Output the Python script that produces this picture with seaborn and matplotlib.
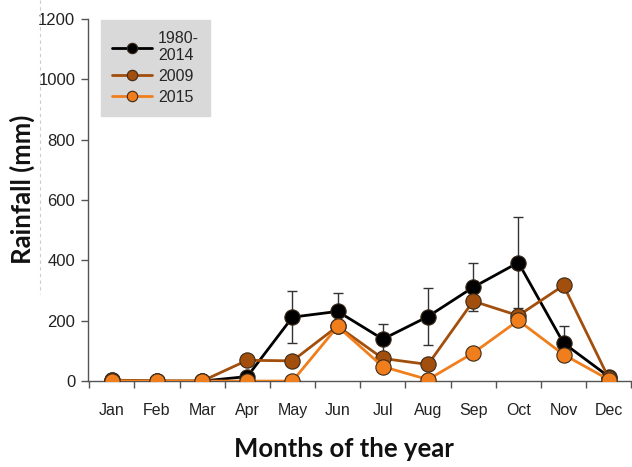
import matplotlib
matplotlib.use("Agg")
import matplotlib.pyplot as plt
from matplotlib.lines import Line2D
import seaborn as sns
import pandas as pd
import numpy as np

months = ["Jan", "Feb", "Mar", "Apr", "May", "Jun", "Jul", "Aug", "Sep", "Oct", "Nov", "Dec"]
mean_1980_2014 = [3, 0, 0, 15, 212, 231, 139, 214, 311, 393, 126, 15]
err_1980_2014 = [0, 0, 0, 0, 87, 61, 49, 93, 79, 152, 55, 0]
rain_2009 = [3, 0, 0, 69, 67, 182, 75, 55, 265, 217, 317, 10]
rain_2015 = [0, 0, 0, 0, 0, 181, 48, 5, 93, 201, 88, 5]
series_labels = ["1980-\n2014", "2009", "2015"]
colors = ["#000000", "#A24E0C", "#F07E1C"]

df = pd.DataFrame({
    "month": list(range(12)) * 3,
    "rain": mean_1980_2014 + rain_2009 + rain_2015,
    "series": [series_labels[0]] * 12 + [series_labels[1]] * 12 + [series_labels[2]] * 12,
})

sns.set_style("white")
plt.rcParams["font.family"] = ["Liberation Sans", "DejaVu Sans"]

fig = plt.figure(figsize=(6.32, 4.67), dpi=100)
ax = fig.add_axes([0.139, 0.184, 0.862, 0.775])

x = np.arange(12)
ax.errorbar(x, mean_1980_2014, yerr=err_1980_2014, fmt="none", ecolor="#333333",
            elinewidth=1, capsize=3.5, capthick=1, zorder=1)

sns.lineplot(data=df, x="month", y="rain", hue="series", palette=colors,
             marker="o", markersize=11, markeredgecolor="#3a2a1a", markeredgewidth=0.8,
             linewidth=2, ax=ax, legend=True, zorder=3)

ax.set_xlim(-0.53, 11.53)
ax.set_ylim(0, 1200)
ax.set_yticks(range(0, 1201, 200))
ax.set_xticks(x)
ax.set_xticklabels(months)
ax.set_xticks(np.arange(-0.5, 12, 1), minor=True)
ax.tick_params(axis="x", which="major", length=0, pad=16, labelsize=11.5, colors="#222222")
ax.tick_params(axis="x", which="minor", length=5, direction="out", width=1, color="#555555", bottom=True)
ax.tick_params(axis="y", length=5, direction="out", width=1, color="#555555", left=True,
               labelsize=12, labelcolor="#222222", pad=4)

for s in ["top", "right"]:
    ax.spines[s].set_visible(False)
for s in ["left", "bottom"]:
    ax.spines[s].set_color("#555555")
    ax.spines[s].set_linewidth(1)

ax.set_xlabel("Months of the year", fontsize=18.5, fontweight="bold", family="Lato", color="#111111")
ax.xaxis.set_label_coords(0.47, -0.155)
ax.set_ylabel("Rainfall (mm)", fontsize=18.5, fontweight="bold", family="Lato", color="#111111")
ax.yaxis.set_label_coords(-0.097, 0.53)

leg = ax.legend(loc="upper left", bbox_to_anchor=(0.01, 1.02), frameon=True, fancybox=False,
                facecolor="#D9D9D9", edgecolor="#D9D9D9", framealpha=1, fontsize=11.5,
                handlelength=2.5, handletextpad=0.35, borderpad=0.7, labelspacing=0.35)
for h in leg.legend_handles:
    h.set_markersize(7.5)

fig.add_artist(Line2D([0.063, 0.063], [1.0, 0.37], transform=fig.transFigure,
                      color="#cccccc", linestyle=(0, (3, 3)), linewidth=0.8))

fig.savefig("out.png", dpi=100)
